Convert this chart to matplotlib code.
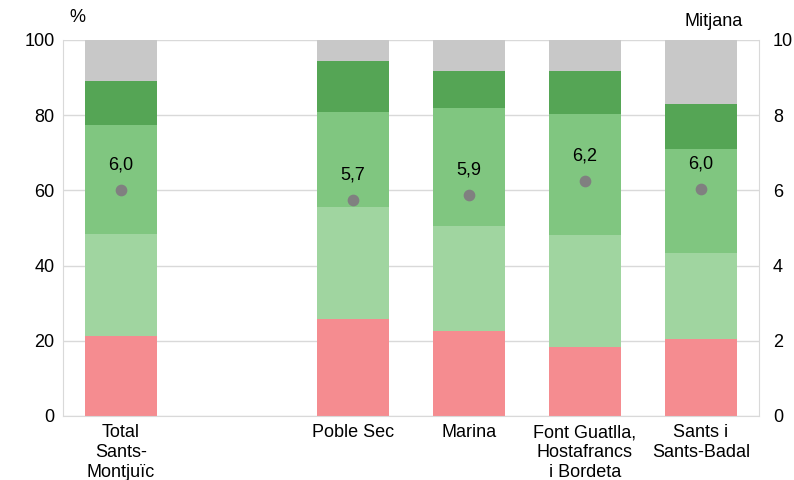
import matplotlib
matplotlib.use('Agg')
import matplotlib.pyplot as plt
import numpy as np

plt.rcParams['font.family'] = ['Liberation Sans', 'DejaVu Sans']
plt.rcParams['font.size'] = 13

# categories (one empty slot after the total)
labels = ['Total\nSants-\nMontjuïc', '', 'Poble Sec', 'Marina',
          'Font Guatlla,\nHostafrancs\ni Bordeta', 'Sants i\nSants-Badal']

# stacked shares (%), bottom to top
seg1 = [21.4, np.nan, 25.8, 22.6, 18.3, 20.5]
seg2 = [27.1, np.nan, 29.9, 28.0, 29.9, 22.9]
seg3 = [28.9, np.nan, 25.2, 31.4, 32.1, 27.6]
seg4 = [11.8, np.nan, 13.5, 9.8, 11.5, 12.0]
seg5 = [10.8, np.nan, 5.6, 8.2, 8.2, 17.0]

# average score (right axis)
mitjana = [6.01, np.nan, 5.74, 5.88, 6.24, 6.04]

colors = ['#F58C90', '#A0D5A0', '#80C680', '#55A555', '#C8C8C8']
segs = [seg1, seg2, seg3, seg4, seg5]

fig = plt.figure(figsize=(7.94, 4.8), dpi=100)
ax = fig.add_axes([63/794, 64/480, 696/794, 376/480])

x = np.arange(len(labels))
bottom = np.zeros(len(labels))
for s, c in zip(segs, colors):
    v = np.nan_to_num(np.array(s, dtype=float))
    ax.bar(x, v, bottom=bottom, width=0.62, color=c, zorder=2)
    bottom = bottom + v

ax.set_xlim(-0.5, len(labels) - 0.5)
ax.set_ylim(0, 100)
ax.set_yticks(range(0, 101, 20))
ax.yaxis.grid(True, color='#D9D9D9', linewidth=1, zorder=0)
ax.set_xticks(x)
ax.set_xticklabels(labels, linespacing=1.2)
ax.tick_params(axis='both', length=0, pad=6)
for side in ['left', 'right', 'bottom']:
    ax.spines[side].set_color('#D9D9D9')
ax.spines['top'].set_visible(False)

ax2 = ax.twinx()
ax2.set_ylim(0, 10)
ax2.set_yticks(range(0, 11, 2))
ax2.tick_params(axis='y', length=0, pad=10)
for side in ['left', 'right', 'top', 'bottom']:
    ax2.spines[side].set_visible(False)
ax2.scatter(x, mitjana, s=55, color='#808080', zorder=5)
for xi, m in zip(x, mitjana):
    if np.isnan(m):
        continue
    ax2.annotate(('%.1f' % m).replace('.', ','), (xi, m), xytext=(0, 12),
                 textcoords='offset points', ha='center', va='bottom')

fig.text(77/794, 1 - 18/480, '%', ha='center', va='center')
fig.text(714/794, 1 - 22/480, 'Mitjana', ha='center', va='center')

fig.savefig('out.png', dpi=100)
